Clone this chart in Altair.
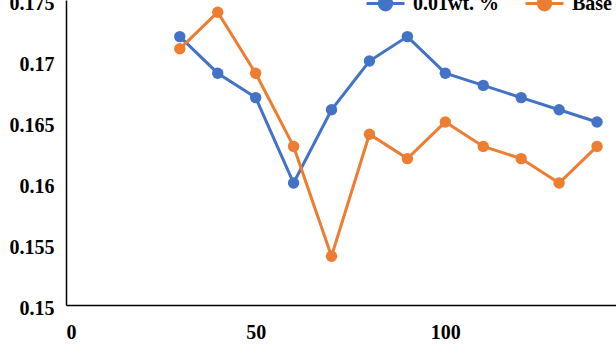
import altair as alt
import pandas as pd

x_vals = [30, 40, 50, 60, 70, 80, 90, 100, 110, 120, 130, 140]
s1_name = "0.01wt. %"
s1_vals = [0.172, 0.169, 0.167, 0.160, 0.166, 0.170, 0.172, 0.169, 0.168, 0.167, 0.166, 0.165]
s2_name = "Base Oil"
s2_vals = [0.171, 0.174, 0.169, 0.163, 0.154, 0.164, 0.162, 0.165, 0.163, 0.162, 0.160, 0.163]

rows = []
for name, vals in [(s1_name, s1_vals), (s2_name, s2_vals)]:
    for xv, yv in zip(x_vals, vals):
        rows.append({"x": xv, "y": yv, "series": name})
df = pd.DataFrame(rows)

FONT = "Liberation Serif"
sym = "M-1,0H1M-0.33,0A0.33,0.33,0,1,1,0.33,0A0.33,0.33,0,1,1,-0.33,0Z"

color = alt.Color(
    "series:N",
    sort=[s1_name, s2_name],
    scale=alt.Scale(domain=[s1_name, s2_name], range=["#4472C4", "#ED7D31"]),
    legend=alt.Legend(
        title=None,
        orient="none",
        direction="horizontal",
        legendX=299,
        legendY=-17,
        symbolType=sym,
        symbolSize=1444,
        symbolStrokeWidth=3,
        labelFont=FONT,
        labelFontSize=20,
        labelFontWeight="bold",
        labelColor="black",
        labelOffset=7,
        columnPadding=19,
        padding=0,
    ),
)

xenc = alt.X(
    "x:Q",
    scale=alt.Scale(domain=[0, 145], nice=False, zero=False),
    axis=alt.Axis(values=[0, 50, 100], title=None, format="d"),
)
yenc = alt.Y(
    "y:Q",
    scale=alt.Scale(domain=[0.15, 0.175], nice=False, zero=False),
    axis=alt.Axis(values=[0.15, 0.155, 0.16, 0.165, 0.17, 0.175], title=None, format="~g",
                  labelOffset=3),
)

base = alt.Chart(df).encode(x=xenc, y=yenc, color=color)
lines = base.mark_line(strokeWidth=3, clip=True)
points = base.mark_point(filled=True, size=130, opacity=1, clip=True)

chart = (
    alt.layer(lines, points)
    .properties(
        width=550,
        height=305,
        autosize=alt.AutoSizeParams(type="none"),
        padding={"left": 66, "top": 0, "right": 0, "bottom": 52},
        background="white",
    )
    .configure_view(stroke=None)
    .configure_axis(
        grid=False,
        ticks=False,
        domainColor="black",
        domainWidth=1.5,
        labelFont=FONT,
        labelFontSize=20,
        labelFontWeight="bold",
        labelColor="black",
        labelPadding=12,
    )
    .configure_axisX(labelPadding=17)
)

chart.save("out.html", embed_options={"renderer": "svg", "actions": False})
